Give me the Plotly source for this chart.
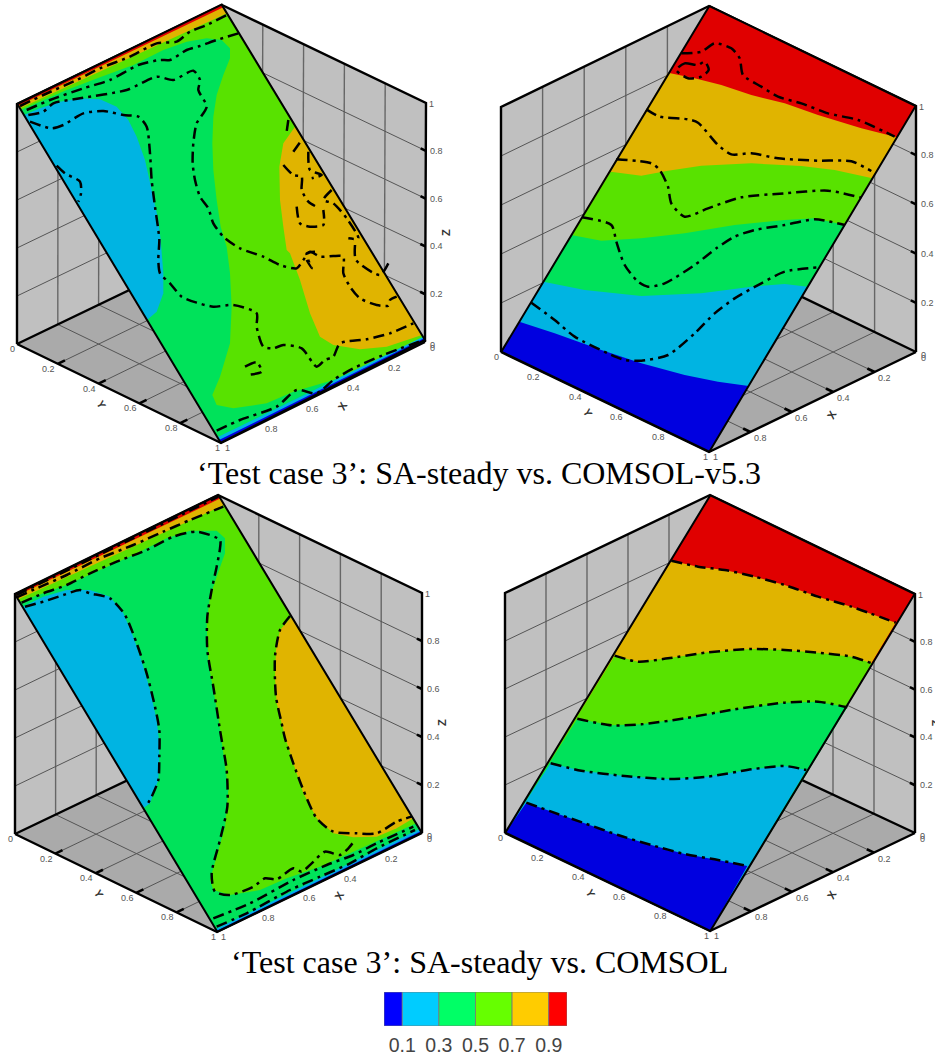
import plotly.graph_objects as go

# ---------- colour-band levels ----------
BAND_EDGES = [0, 0.1, 0.3, 0.5, 0.7, 0.9, 1.0]
BAR_COLORS = ["#0000ff", "#00ccff", "#00ff66", "#66ff00", "#ffcc00", "#ff0000"]
LEVEL_LABELS = ["0.1", "0.3", "0.5", "0.7", "0.9"]
LEVELS = [0.1, 0.3, 0.5, 0.7, 0.9]
AXIS_TICKS = [0.2, 0.4, 0.6, 0.8]
DBLUE, BLUE, GREEN, LGREEN, AMBER, RED = "#0000e0", "#00b4e2", "#00e25a", "#58e200", "#e0b400", "#e00000"

CAPTION_1 = "‘Test case 3’: SA-steady vs. COMSOL-v5.3"
CAPTION_2 = "‘Test case 3’: SA-steady vs. COMSOL"

# ---------- panel boxes (left, top, right, bottom corners, back corner, height) ----------
BOX_1 = dict(L=(17, 344), R=(425, 342), B=(221, 443), K=(221, 246), T=(222, 5), LT=(17, 104), RT=(426, 103))
BOX_2 = dict(L=(501, 352), R=(916, 352), B=(709, 452), K=(709, 252), T=(709, 6), LT=(501, 107), RT=(916, 106))
BOX_3 = dict(L=(15, 834), R=(422, 833), B=(217, 932), K=(218, 737), T=(218, 495), LT=(15, 594), RT=(422, 593))
BOX_4 = dict(L=(505, 833), R=(915, 833), B=(710, 931), K=(710, 737), T=(710, 495), LT=(505, 593), RT=(915, 594))

# ---------- left-hand panels: outlines read at 3x, relative to each panel's origin ----------
A_PLANE = [(52, 312), (665, 14), (1275, 1020), (662, 1328)]
A_LGREEN = [(52, 312), (665, 14), (1275, 1020), (1270, 1012), (1200, 1050), (1100, 1095), (1000, 1140), (880, 1175),
            (800, 1210), (700, 1225), (650, 1215), (637, 1185), (660, 1130), (690, 1030), (695, 920), (690, 820),
            (680, 740), (662, 680), (650, 600), (640, 510), (637, 430), (640, 350), (650, 285), (670, 225), (690, 175),
            (690, 145), (665, 120), (620, 115), (560, 125), (490, 150), (400, 195), (300, 232), (200, 270), (130, 300),
            (62, 330)]
A_AMBER = [(885, 380), (850, 430), (838, 500), (840, 600), (850, 680), (860, 750), (870, 760), (900, 840), (930, 940),
           (960, 1010), (1000, 1035), (1080, 1048), (1160, 1040), (1266, 1005)]
A_TOP_AMBER = [(52, 312), (665, 14), (681, 40), (60, 325)]
A_TOP_RED = [(52, 312), (665, 14), (670, 22), (55, 317)]
A_BLUE = [(72, 345), (120, 325), (180, 305), (240, 295), (300, 298), (350, 320), (385, 360), (410, 410), (435, 480),
          (455, 570), (475, 660), (482, 720), (490, 820), (490, 880), (470, 935), (441, 960)]
A_LOW_BLUE = [(652, 1312), (1269, 1010), (1275, 1020), (662, 1328)]
A_LOW_DBLUE = [(657, 1320), (1272, 1015), (1275, 1020), (662, 1328)]
A_CONTOURS = [
    [(60, 318), (130, 285), (230, 240), (300, 205), (390, 170), (470, 130), (530, 125), (570, 95), (620, 75), (680, 45)],
    [(80, 330), (150, 300), (250, 265), (330, 240), (415, 195), (480, 180), (510, 180), (560, 150), (600, 138),
     (650, 120), (715, 100)],
    [(85, 345), (130, 335), (160, 310), (240, 295), (380, 270), (470, 230), (520, 240), (580, 212), (600, 240),
     (595, 270), (620, 320), (590, 370), (580, 430), (578, 490), (585, 540), (600, 590), (625, 625), (640, 670),
     (670, 710), (720, 745), (790, 770), (840, 795), (890, 805), (910, 780), (930, 755), (960, 770), (1000, 768),
     (1030, 770), (1030, 820), (1050, 860), (1080, 895), (1130, 915), (1165, 917), (1170, 900), (1190, 890)],
    [(90, 365), (155, 385), (190, 375), (250, 340), (310, 333), (370, 345), (415, 350), (440, 380), (450, 460),
     (455, 540), (465, 620), (475, 690), (478, 720), (475, 780), (480, 820), (510, 850), (545, 890), (590, 908),
     (640, 920), (700, 915), (770, 940), (770, 980), (790, 1040), (820, 1045), (850, 1035), (905, 1045), (950, 1100),
     (975, 1080), (1000, 1070), (1020, 1030), (1100, 1018), (1170, 1000), (1240, 970)],
    [(650, 1292), (720, 1260), (830, 1220), (890, 1170), (950, 1180), (1000, 1140), (1060, 1105), (1150, 1065), (1270, 1020)],
    [(170, 497), (195, 520), (240, 545), (243, 580), (235, 605)],
    [(735, 1100), (770, 1087), (785, 1115), (740, 1125)],
    [(865, 360), (860, 395)],
    [(880, 455), (905, 420)],
    [(850, 495), (880, 525), (905, 530), (905, 570), (925, 605), (945, 618)],
    [(890, 620), (900, 670), (930, 680), (970, 675), (970, 630)],
    [(925, 455), (930, 510), (965, 525), (935, 535)],
    [(995, 570), (970, 600), (1000, 610), (1040, 655), (1075, 715), (1045, 715)],
    [(1065, 735), (1068, 780), (1140, 825), (1165, 790)],
    [(920, 780), (935, 805), (920, 760), (945, 755)],
]

C_PLANE = [(45, 313), (655, 15), (1265, 1028), (652, 1325)]
C_LGREEN = [(45, 313), (655, 15), (1265, 1028), (1248, 1000), (1160, 1040), (1060, 1085), (960, 1130), (860, 1165),
            (780, 1200), (690, 1215), (640, 1200), (630, 1170), (650, 1100), (675, 1010), (685, 900), (670, 790),
            (665, 750), (655, 680), (640, 600), (625, 520), (620, 400), (630, 320), (650, 260), (675, 190), (675, 145),
            (650, 122), (570, 122), (500, 145), (400, 195), (300, 240), (200, 285), (100, 320), (62, 335)]
C_AMBER = [(875, 380), (840, 420), (828, 480), (825, 560), (830, 640), (845, 700), (855, 740), (880, 820), (910, 910),
           (950, 985), (1000, 1030), (1060, 1042), (1130, 1040), (1190, 1015), (1240, 985)]
C_TOP_AMBER = [(45, 313), (655, 15), (672, 45), (55, 328)]
C_TOP_RED = [(45, 313), (655, 15), (662, 25), (48, 318)]
C_BLUE = [(67, 350), (130, 320), (200, 300), (270, 300), (330, 320), (370, 370), (400, 440), (430, 530), (450, 600),
          (470, 690), (478, 760), (478, 800), (475, 870), (450, 940), (430, 955)]
C_LOW_BLUE = [(647, 1317), (1258, 1017), (1265, 1028), (652, 1325)]
C_LOW_DBLUE = [(650, 1322), (1262, 1024), (1265, 1028), (652, 1325)]
C_CONTOURS = [
    [(50, 315), (655, 20)],
    [(50, 322), (110, 295), (200, 255), (300, 205), (400, 165), (490, 125), (570, 90), (670, 50)],
    [(65, 338), (130, 310), (200, 285), (270, 250), (350, 215), (440, 180), (520, 140), (590, 125), (660, 150),
     (660, 175), (650, 230), (635, 300), (622, 380), (622, 480), (640, 590), (660, 720), (665, 750), (680, 840),
     (682, 950), (660, 1050), (635, 1150), (645, 1205), (690, 1215), (760, 1190), (795, 1165), (830, 1168), (880, 1135),
     (905, 1145), (935, 1120), (975, 1085), (1020, 1095), (1045, 1075), (1065, 1050)],
    [(75, 350), (130, 335), (190, 315), (240, 300), (270, 310), (330, 325), (375, 375), (410, 460), (440, 550),
     (465, 650), (478, 720), (478, 800), (475, 870), (455, 920), (438, 950)],
    [(870, 378), (840, 420), (825, 500), (828, 620), (845, 700), (855, 745), (880, 820), (910, 900), (950, 985),
     (1000, 1025), (1070, 1030), (1130, 1030), (1190, 995), (1235, 980)],
    [(640, 1285), (750, 1240), (880, 1170), (980, 1125), (1060, 1095), (1130, 1060), (1240, 1010)],
    [(650, 1310), (740, 1270), (870, 1200), (960, 1160), (1050, 1120), (1130, 1075), (1245, 1020)],
]

# ---------- right-hand panels: band boundaries, top to bottom ----------
B_PLANE = [(724, 18), (1343, 318), (724, 1355), (100, 1055)]
B_BANDS = [
    (AMBER, [(600, 218), (680, 235), (760, 255), (850, 285), (950, 310), (1050, 345), (1180, 385), (1287, 412)]),
    (LGREEN, [(428, 515), (520, 527), (600, 512), (700, 497), (850, 490), (1000, 498), (1100, 510), (1213, 535)]),
    (GREEN, [(310, 705), (400, 722), (520, 715), (650, 700), (800, 675), (950, 660), (1040, 655), (1130, 675)]),
    (BLUE, [(226, 845), (350, 870), (520, 888), (700, 880), (850, 860), (950, 852), (1019, 860)]),
    (DBLUE, [(154, 965), (260, 1000), (400, 1050), (520, 1090), (650, 1125), (750, 1145), (842, 1158)]),
]
B_CONTOURS = [
    [(640, 160), (700, 155), (740, 130), (790, 145), (815, 175), (825, 225), (880, 260), (930, 290), (1000, 310),
     (1080, 340), (1170, 360), (1280, 410)],
    [(625, 210), (650, 190), (690, 195), (710, 185), (722, 210), (700, 230), (660, 235), (625, 210)],
    [(535, 328), (575, 350), (660, 358), (690, 368), (750, 435), (790, 463), (850, 460), (930, 475), (1050, 482),
     (1150, 484), (1210, 513)],
    [(445, 478), (550, 490), (575, 510), (600, 560), (610, 610), (650, 650), (720, 625), (820, 592), (950, 580),
     (1080, 572), (1180, 593)],
    [(342, 652), (430, 675), (445, 725), (470, 795), (510, 845), (540, 860), (590, 850), (680, 795), (745, 745),
     (800, 710), (860, 690), (950, 675), (1040, 658), (1130, 675)],
    [(190, 908), (260, 960), (320, 1010), (420, 1060), (470, 1080), (520, 1082), (600, 1065), (680, 1000), (740, 940),
     (800, 895), (880, 850), (950, 815), (1050, 802)],
]

D_PLANE = [(727, 16), (1340, 312), (727, 1323), (112, 1028)]
D_BANDS = [
    (AMBER, [(610, 212), (690, 230), (770, 240), (860, 260), (950, 285), (1050, 320), (1150, 350), (1283, 398)]),
    (LGREEN, [(440, 497), (510, 515), (600, 505), (720, 487), (850, 477), (950, 480), (1050, 488), (1150, 500), (1212, 520)]),
    (GREEN, [(328, 686), (430, 706), (520, 703), (650, 685), (800, 658), (950, 638), (1050, 635), (1138, 652)]),
    (BLUE, [(248, 820), (340, 842), (470, 858), (600, 867), (720, 860), (850, 838), (950, 828), (1015, 840)]),
    (DBLUE, [(175, 938), (250, 965), (350, 1000), (450, 1035), (550, 1065), (650, 1092), (750, 1110), (838, 1128)]),
]

# ---------- helpers ----------
ORIGINS = {"A": (0, 0), "B": (468, 0), "C": (0, 490), "D": (468, 490)}
DASH = "11px,5px,3px,5px"
fig = go.Figure()


def lerp(p, q, t):
    return (p[0] + (q[0] - p[0]) * t, p[1] + (q[1] - p[1]) * t)


def px(points, key):
    ox, oy = ORIGINS[key]
    return [ox + p[0] / 3 for p in points], [oy + p[1] / 3 for p in points]


def fill(xs, ys, color):
    fig.add_trace(go.Scatter(x=list(xs) + [xs[0]], y=list(ys) + [ys[0]], mode="lines", fill="toself", fillcolor=color,
                             line=dict(width=0, color=color), hoverinfo="skip", showlegend=False, xaxis="x", yaxis="y"))


def line(pts, color="black", width=1.0, dash=None, spline=False):
    ln = dict(color=color, width=width)
    if dash:
        ln["dash"] = dash
    if spline:
        ln["shape"] = "spline"
        ln["smoothing"] = 0.7
    fig.add_trace(go.Scatter(x=[p[0] for p in pts], y=[p[1] for p in pts], mode="lines", line=ln,
                             hoverinfo="skip", showlegend=False, xaxis="x", yaxis="y"))


def label(pos, text, size=9, color="#555555", angle=0, bold=False):
    fig.add_annotation(x=pos[0], y=pos[1], text=f"<b>{text}</b>" if bold else text, showarrow=False, textangle=angle,
                       font=dict(family="Liberation Sans", size=size, color=color), xref="x", yref="y")


def box(b):
    L, R, B, K, T, LT, RT = b["L"], b["R"], b["B"], b["K"], b["T"], b["LT"], b["RT"]
    fill(*zip(LT, T, K, L), "#c0c0c0")
    fill(*zip(T, RT, R, K), "#c0c0c0")
    fill(*zip(L, K, R, B), "#aaaaaa")
    for t in AXIS_TICKS:
        # verticals on the walls
        line([lerp(LT, T, t), lerp(L, K, t)], "#666666", 1.4)
        line([lerp(T, RT, t), lerp(K, R, t)], "#666666", 1.4)
        # horizontals on the walls
        line([lerp(L, LT, t), lerp(K, T, t)], "#555555", 1.0)
        line([lerp(K, T, t), lerp(R, RT, t)], "#555555", 1.0)
        # floor grid
        line([lerp(L, K, t), lerp(B, R, t)], "#555555", 1.0)
        line([lerp(K, R, t), lerp(L, B, t)], "#555555", 1.0)
    line([L, LT, T, RT, R], "black", 2.4)
    line([L, K, R], "black", 2.4)
    line([L, B, R], "black", 2.4)
    for t in AXIS_TICKS:
        # short axis ticks
        p = lerp(L, B, t)
        line([p, lerp(p, lerp(K, R, t), 0.035)], "black", 2.6)
        p = lerp(R, B, t)
        line([p, lerp(p, lerp(K, L, t), 0.035)], "black", 2.6)
        p = lerp(R, RT, t)
        line([p, lerp(p, lerp(K, T, t), 0.025)], "black", 2.6)


def box_labels(b):
    L, R, B, RT = b["L"], b["R"], b["B"], b["RT"]
    for t in AXIS_TICKS:
        p = lerp(L, B, t)
        label((p[0] - 9, p[1] + 5), str(t))
        p = lerp(R, B, t)
        label((p[0] + 10, p[1] + 6), str(t))
        p = lerp(R, RT, t)
        label((p[0] + 11, p[1]), str(t))
    label((L[0] - 5, L[1] + 5), "0")
    label((B[0] - 4, B[1] + 5), "1")
    label((B[0] + 6, B[1] + 5), "1")
    label((R[0] + 7, R[1] + 3), "0")
    label((R[0] + 7, R[1] + 6), "0")
    label((RT[0] + 5, RT[1] + 1), "1")
    p = lerp(L, B, 0.5)
    label((p[0] - 17, p[1] + 11), "Y", 11, "#333333", 60, True)
    p = lerp(R, B, 0.5)
    label((p[0] + 19, p[1] + 13), "X", 11, "#333333", -60, True)
    p = lerp(R, RT, 0.5)
    label((p[0] + 20, p[1] + 10), "Z", 11, "#333333", -90, True)


def plane_edges(plane, key):
    xs, ys = px(plane, key)
    line(list(zip(xs, ys)) + [(xs[0], ys[0])], "black", 2.0)


def contours(sets, key):
    for c in sets:
        xs, ys = px(c, key)
        line(list(zip(xs, ys)), "black", 2.5, DASH, True)


def left_panel(b, key, plane, lg, amber, top_amber, top_red, blue, low_blue, low_dblue, sets):
    box(b)
    fill(*px(plane, key), GREEN)
    fill(*px(lg, key), LGREEN)
    fill(*px(amber, key), AMBER)
    fill(*px(top_amber, key), AMBER)
    fill(*px(top_red, key), RED)
    fill(*px(blue, key), BLUE)
    fill(*px(low_blue, key), BLUE)
    fill(*px(low_dblue, key), DBLUE)
    contours(sets, key)
    plane_edges(plane, key)
    box_labels(b)


def right_panel(b, key, plane, bands, sets):
    box(b)
    fill(*px(plane, key), RED)
    for color, edge in bands:
        fill(*px(edge + [plane[2], plane[3]], key), color)
    contours(sets, key)
    plane_edges(plane, key)
    box_labels(b)


left_panel(BOX_1, "A", A_PLANE, A_LGREEN, A_AMBER, A_TOP_AMBER, A_TOP_RED, A_BLUE, A_LOW_BLUE, A_LOW_DBLUE, A_CONTOURS)
right_panel(BOX_2, "B", B_PLANE, B_BANDS, B_CONTOURS)
left_panel(BOX_3, "C", C_PLANE, C_LGREEN, C_AMBER, C_TOP_AMBER, C_TOP_RED, C_BLUE, C_LOW_BLUE, C_LOW_DBLUE, C_CONTOURS)
right_panel(BOX_4, "D", D_PLANE, D_BANDS, [edge for _, edge in D_BANDS])

for text, y in [(CAPTION_1, 473), (CAPTION_2, 962)]:
    fig.add_annotation(x=479, y=y, text=text, showarrow=False, xref="x", yref="y",
                       font=dict(family="Liberation Serif", size=32, color="black"))

# colour bar
for i, color in enumerate(BAR_COLORS):
    fig.add_trace(go.Bar(y=[0], x=[BAND_EDGES[i + 1] - BAND_EDGES[i]], base=[BAND_EDGES[i]], orientation="h",
                         width=[1], marker=dict(color=color, line=dict(color="#777777", width=0.8)),
                         hoverinfo="skip", showlegend=False, xaxis="x2", yaxis="y2"))

W, H = 935, 1059
fig.update_layout(
    width=W, height=H, margin=dict(l=0, r=0, t=0, b=0), paper_bgcolor="white", plot_bgcolor="white",
    barmode="overlay",
    xaxis=dict(range=[0, W], domain=[0, 1], visible=False, fixedrange=True),
    yaxis=dict(range=[H, 0], domain=[0, 1], visible=False, fixedrange=True),
    xaxis2=dict(range=[0, 1], domain=[384 / W, 567 / W], anchor="y2", tickvals=LEVELS, ticktext=LEVEL_LABELS,
                showgrid=False, zeroline=False, ticks="", ticklen=0, showline=False, ticklabelstandoff=5,
                tickfont=dict(family="Liberation Sans", size=19.5, color="#444444")),
    yaxis2=dict(range=[-0.5, 0.5], domain=[1 - 1026 / H, 1 - 992 / H], anchor="x2", visible=False, fixedrange=True),
)
fig.write_html("out.html", config=dict(displayModeBar=False),
               post_script="document.body.style.margin='0';document.body.style.overflow='hidden';")
